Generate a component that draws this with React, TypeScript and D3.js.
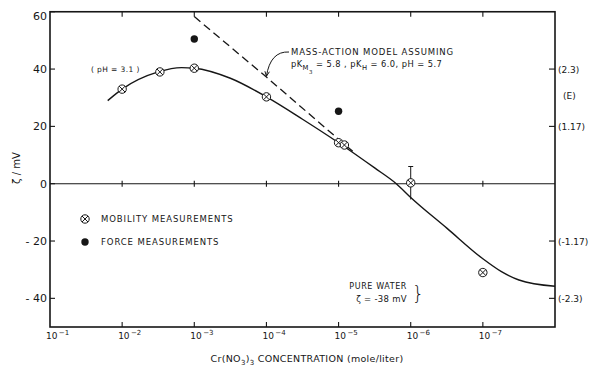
import React from 'react';
import * as d3 from 'd3';

const W = 591;
const H = 372;

// axis ticks
const decades = [1e-1, 1e-2, 1e-3, 1e-4, 1e-5, 1e-6, 1e-7];
const decadeExponents = ['1', '2', '3', '4', '5', '6', '7'];
const yTicks = [60, 40, 20, 0, -20, -40];
const yTickLabels = ['60', '40', '20', '0', '- 20', '- 40'];
const rightTicks = [40, 20, -20, -40];
const rightLabels = ['(2.3)', '(1.17)', '(-1.17)', '(-2.3)'];

// mobility measurements (crossed circles)
const mobilityConc = [1e-2, 3e-3, 1e-3, 1e-4, 1e-5, 8.3e-6, 1e-6, 1e-7];
const mobilityZeta = [33, 39, 40.3, 30.3, 14.3, 13.5, 0.3, -31];
// error bar on the 1e-6 point
const errConc = [1e-6];
const errHigh = [6];
const errLow = [-5.5];

// force measurements (filled circles)
const forceConc = [1e-3, 1e-5];
const forceZeta = [50.5, 25.3];

// fitted curve (solid)
const modelConc = [1.585e-2, 1e-2, 3.16e-3, 1.5e-3, 1e-3, 3.16e-4, 1e-4, 3.16e-5, 1e-5, 3.16e-6, 1.585e-6, 1e-6, 3.16e-7, 1e-7, 5.6e-8, 3.16e-8, 1e-8];
const modelZeta = [29, 33, 39, 40.5, 40.3, 36.8, 30.3, 22.5, 14.3, 5.5, 0, -4.8, -15.5, -26.2, -30.6, -33.6, -35.8];

// mass-action model (dashed)
const massConc = [1e-3, 1e-4, 1e-5, 6.3e-6];
const massZeta = [58.3, 37.2, 15.5, 11.2];

const FONT = "'DejaVu Sans', sans-serif";
const INK = '#161616';

function CrossCircle({ cx, cy, r = 4.2 }: { cx: number; cy: number; r?: number }) {
  const d = r * 0.72;
  return (
    <g stroke={INK} strokeWidth={1} fill="white">
      <circle cx={cx} cy={cy} r={r} />
      <line x1={cx - d} y1={cy - d} x2={cx + d} y2={cy + d} />
      <line x1={cx - d} y1={cy + d} x2={cx + d} y2={cy - d} />
    </g>
  );
}

export default function App() {
  const x = d3.scaleLog().domain([1e-1, 1e-8]).range([50, 555]);
  const y = d3.scaleLinear().domain([-50, 60]).range([327, 11.75]);

  const line = d3
    .line<[number, number]>()
    .x((d) => x(d[0]))
    .y((d) => y(d[1]))
    .curve(d3.curveMonotoneX);
  const straight = d3
    .line<[number, number]>()
    .x((d) => x(d[0]))
    .y((d) => y(d[1]));

  const modelPath = line(modelConc.map((c, i) => [c, modelZeta[i]]) as [number, number][]) || '';
  const massPath = straight(massConc.map((c, i) => [c, massZeta[i]]) as [number, number][]) || '';

  const [x0, x1] = x.range();
  const [yb, yt] = y.range();

  // leader arrow from annotation to dashed line
  const arrowEnd = [x(1e-4), y(37.5)] as [number, number];
  const arrowStart = [289, 52];

  return (
    <svg width={W} height={H} style={{ position: 'absolute', left: 0, top: 0, background: 'white' }} fontFamily={FONT}>
      <rect width={W} height={H} fill="white" />
      {/* frame */}
      <rect x={x0} y={yt} width={x1 - x0} height={yb - yt} fill="none" stroke={INK} strokeWidth={1.6} />
      {/* zero line */}
      <line x1={x0} x2={x1} y1={y(0)} y2={y(0)} stroke={INK} strokeWidth={1.1} />

      {/* decade ticks on top, bottom and zero line */}
      {decades.slice(1).map((d) => (
        <g key={'t' + d} stroke={INK} strokeWidth={1.1}>
          <line x1={x(d)} x2={x(d)} y1={yt} y2={yt + 5} />
          <line x1={x(d)} x2={x(d)} y1={yb} y2={yb - 5} />
          <line x1={x(d)} x2={x(d)} y1={y(0) - 3} y2={y(0) + 3} />
        </g>
      ))}

      {/* x tick labels */}
      {decades.map((d, i) => (
        <text key={'xl' + d} x={x(d) - 4} y={339} fontSize={9} fill={INK}>
          10
          <tspan dy={-4} fontSize={7}>
            {'\u2009\u2212' + decadeExponents[i]}
          </tspan>
        </text>
      ))}

      {/* left ticks and labels */}
      {yTicks.map((v, i) => (
        <g key={'yl' + v}>
          <line x1={x0} x2={x0 + 5} y1={y(v)} y2={y(v)} stroke={INK} strokeWidth={1.1} />
          <text x={x0 - 3} y={y(v) + (v === 60 ? 8 : 4)} fontSize={11} textAnchor="end" fill={INK}>
            {yTickLabels[i]}
          </text>
        </g>
      ))}

      {/* right ticks and labels */}
      {rightTicks.map((v, i) => (
        <g key={'yr' + v}>
          <line x1={x1 - 6} x2={x1} y1={y(v)} y2={y(v)} stroke={INK} strokeWidth={1.1} />
          <text x={x1 + 3} y={y(v) + 3.5} fontSize={9} fill={INK}>
            {rightLabels[i]}
          </text>
        </g>
      ))}
      <text x={x1 + 8} y={y(30.5) + 3} fontSize={9} fill={INK}>
        (E)
      </text>

      {/* curves */}
      <path d={modelPath} fill="none" stroke={INK} strokeWidth={1.4} />
      <path d={massPath} fill="none" stroke={INK} strokeWidth={1.3} strokeDasharray="8,4.5" />

      {/* error bar */}
      {errConc.map((c, i) => (
        <g key={'e' + i} stroke={INK} strokeWidth={1}>
          <line x1={x(c)} x2={x(c)} y1={y(errHigh[i])} y2={y(errLow[i])} />
          <line x1={x(c) - 2.5} x2={x(c) + 2.5} y1={y(errHigh[i])} y2={y(errHigh[i])} />
        </g>
      ))}

      {/* points */}
      {mobilityConc.map((c, i) => (
        <CrossCircle key={'m' + i} cx={x(c)} cy={y(mobilityZeta[i])} />
      ))}
      {forceConc.map((c, i) => (
        <circle key={'f' + i} cx={x(c)} cy={y(forceZeta[i])} r={3.7} fill={INK} />
      ))}

      {/* annotations */}
      <text x={91} y={72} fontSize={7.5} fill={INK} letterSpacing={0.4}>
        ( pH = 3.1 )
      </text>

      <path
        d={`M${arrowStart[0]},${arrowStart[1]} Q${arrowEnd[0] + 4},${arrowStart[1] - 1} ${arrowEnd[0]},${arrowEnd[1]}`}
        fill="none"
        stroke={INK}
        strokeWidth={1}
      />
      <path
        d={`M${arrowEnd[0] - 1.5},${arrowEnd[1] - 5} L${arrowEnd[0]},${arrowEnd[1]} L${arrowEnd[0] + 3},${arrowEnd[1] - 4.5}`}
        fill="none"
        stroke={INK}
        strokeWidth={1}
      />
      <text x={291} y={55} fontSize={8.5} fill={INK} letterSpacing={0.85}>
        MASS-ACTION MODEL ASSUMING
      </text>
      <text x={291} y={67} fontSize={8.3} fill={INK} letterSpacing={0.45}>
        pK
        <tspan dy={3} fontSize={6.8}>M</tspan>
        <tspan dy={4} fontSize={5.5}>3</tspan>
        <tspan dy={-7}>{' = 5.8 ,  pK'}</tspan>
        <tspan dy={3} fontSize={6.8}>H</tspan>
        <tspan dy={-3}>{' = 6.0, pH = 5.7'}</tspan>
      </text>

      {/* legend */}
      <CrossCircle cx={85} cy={219} r={4.2} />
      <text x={101} y={222} fontSize={8.5} fill={INK} letterSpacing={0.9}>
        MOBILITY MEASUREMENTS
      </text>
      <circle cx={85} cy={242} r={3.7} fill={INK} />
      <text x={101} y={245} fontSize={8.5} fill={INK} letterSpacing={0.9}>
        FORCE MEASUREMENTS
      </text>

      {/* pure water note */}
      <text x={407} y={289} fontSize={8} fill={INK} letterSpacing={0.6} textAnchor="end">
        PURE WATER
      </text>
      <text x={407} y={302} fontSize={8.5} fill={INK} letterSpacing={0.3} textAnchor="end">
        ζ = -38 mV
      </text>
      <text x={412} y={300} fontSize={19} fill={INK} fontWeight={200}>
        {'}'}
      </text>

      {/* axis titles */}
      <text x={307} y={362} fontSize={9.5} textAnchor="middle" fill={INK} letterSpacing={0.3}>
        Cr(NO
        <tspan dy={2.5} fontSize={7}>3</tspan>
        <tspan dy={-2.5}>)</tspan>
        <tspan dy={2.5} fontSize={7}>3</tspan>
        <tspan dy={-2.5}>{' CONCENTRATION (mole/liter)'}</tspan>
      </text>
      <text transform="translate(20,168) rotate(-90)" fontSize={10} textAnchor="middle" fill={INK}>
        ζ / mV
      </text>
    </svg>
  );
}
